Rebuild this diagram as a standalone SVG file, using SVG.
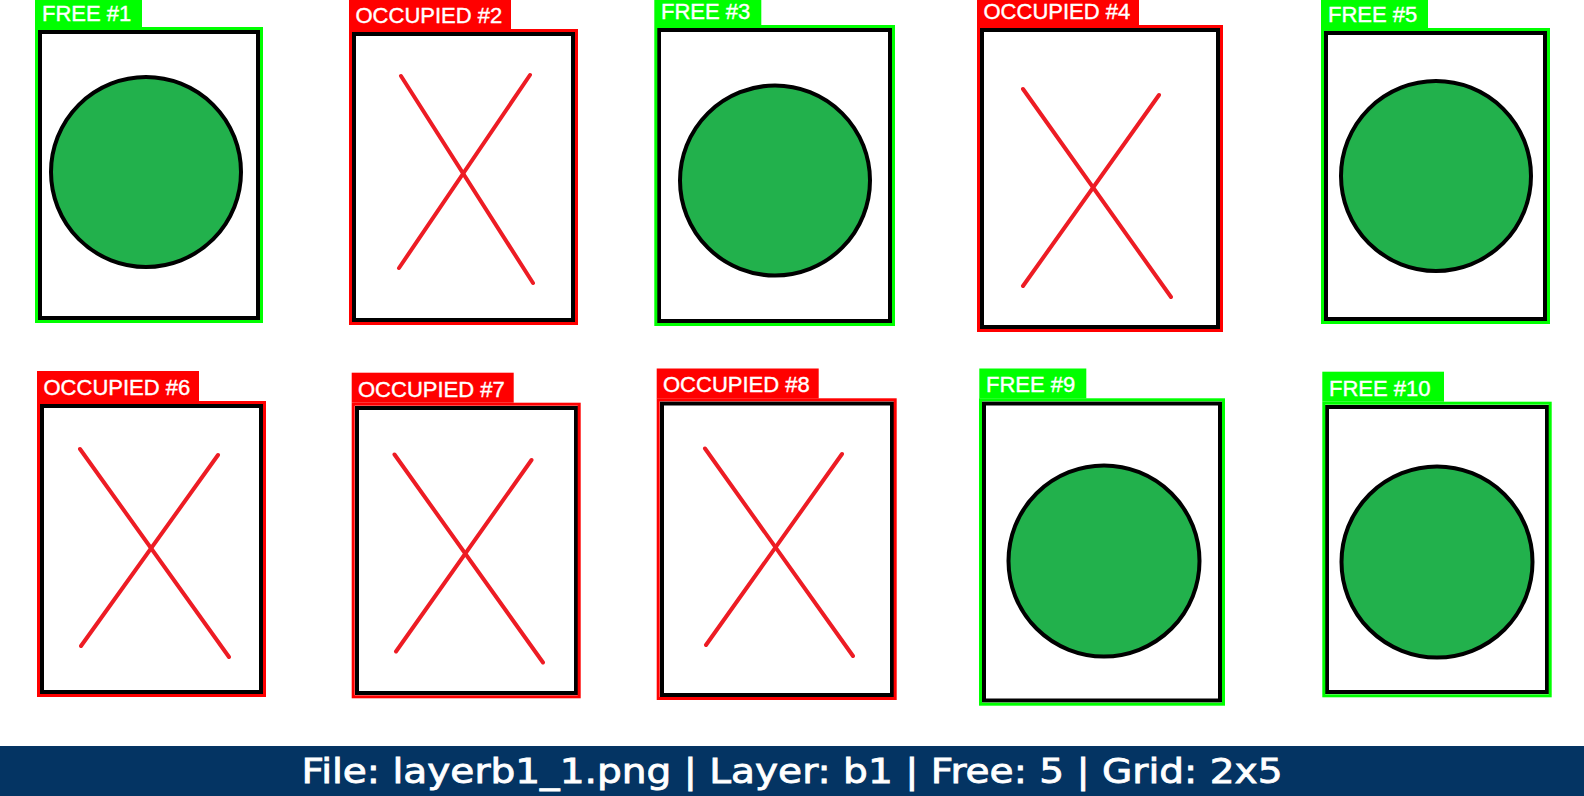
<svg xmlns="http://www.w3.org/2000/svg" width="1584" height="796" viewBox="0 0 1584 796">
<style>
.free{fill:none;stroke:#00FF00;stroke-width:3}
.occ{fill:none;stroke:#FF0000;stroke-width:3}
.inner{fill:#FFFFFF;stroke:#000000;stroke-width:4}
.bgf{fill:#00FF00}
.bgo{fill:#FF0000}
.lbl{font-family:"Liberation Sans",Arial,sans-serif;font-size:22px;fill:#FFFFFF;stroke:#FFFFFF;stroke-width:0.4}
.dot{fill:#22B14C;stroke:#000000;stroke-width:4}
.x{stroke:#ED1C24;stroke-width:4;stroke-linecap:round}
.foot{font-family:"DejaVu Sans","Liberation Sans",sans-serif;font-size:33px;fill:#FFFFFF;stroke:#FFFFFF;stroke-width:0.8}
</style>
<rect width="1584" height="796" fill="#FFFFFF"/>

<g id="slot1">
<rect class="inner" x="40" y="32" width="218" height="286"/>
<rect class="free" x="36.5" y="28.5" width="225" height="293"/>
<rect class="bgf" x="35" y="-3" width="107" height="30"/>
<text class="lbl" x="42" y="21">FREE #1</text>
<circle class="dot" cx="146" cy="172" r="95"/>
</g>

<g id="slot2">
<rect class="inner" x="354" y="34" width="219" height="286"/>
<rect class="occ" x="350.5" y="30.5" width="226" height="293"/>
<rect class="bgo" x="349" y="-1" width="162" height="30"/>
<text class="lbl" x="355.5" y="23">OCCUPIED #2</text>
<line class="x" x1="401" y1="76" x2="533" y2="283"/>
<line class="x" x1="530" y1="75" x2="399" y2="268"/>
</g>

<g id="slot3">
<rect class="inner" x="659" y="30" width="231" height="291"/>
<rect class="free" x="655.8" y="26.5" width="237.7" height="298"/>
<rect class="bgf" x="654.3" y="-5" width="107" height="30"/>
<text class="lbl" x="661" y="19">FREE #3</text>
<circle class="dot" cx="775" cy="180.5" r="95"/>
</g>

<g id="slot4">
<rect class="inner" x="982" y="30" width="236" height="297"/>
<rect class="occ" x="978.5" y="26.5" width="243" height="304"/>
<rect class="bgo" x="977" y="-5" width="162" height="30"/>
<text class="lbl" x="983.5" y="19">OCCUPIED #4</text>
<line class="x" x1="1023" y1="89" x2="1171" y2="297"/>
<line class="x" x1="1159" y1="95" x2="1023" y2="286"/>
</g>

<g id="slot5">
<rect class="inner" x="1326" y="33" width="219" height="286"/>
<rect class="free" x="1322.5" y="29.5" width="226" height="293"/>
<rect class="bgf" x="1321" y="-2" width="107" height="30"/>
<text class="lbl" x="1328" y="22">FREE #5</text>
<circle class="dot" cx="1436" cy="176" r="95"/>
</g>

<g id="slot6">
<rect class="inner" x="42" y="406" width="219" height="286"/>
<rect class="occ" x="38.5" y="402.5" width="226" height="293"/>
<rect class="bgo" x="37" y="371" width="162" height="30"/>
<text class="lbl" x="43.5" y="394.5">OCCUPIED #6</text>
<line class="x" x1="80" y1="449" x2="229" y2="657"/>
<line class="x" x1="218" y1="455" x2="81" y2="646"/>
</g>

<g id="slot7">
<rect class="inner" x="357" y="408" width="219" height="285"/>
<rect class="occ" x="353.2" y="404.2" width="226" height="292.6"/>
<rect class="bgo" x="351.7" y="372.7" width="162" height="30"/>
<text class="lbl" x="358" y="396.5">OCCUPIED #7</text>
<line class="x" x1="394.5" y1="454.5" x2="543" y2="662.5"/>
<line class="x" x1="531.5" y1="460" x2="396" y2="651.5"/>
</g>

<g id="slot8">
<rect class="inner" x="662" y="403.5" width="230" height="291.5"/>
<rect class="occ" x="658.2" y="399.8" width="237" height="298.7"/>
<rect class="bgo" x="656.7" y="368.5" width="162" height="30"/>
<text class="lbl" x="663" y="392.3">OCCUPIED #8</text>
<line class="x" x1="705" y1="448.5" x2="853" y2="656"/>
<line class="x" x1="842" y1="454" x2="706" y2="645"/>
</g>

<g id="slot9">
<rect class="inner" x="984" y="403.5" width="236" height="297"/>
<rect class="free" x="980.5" y="399.8" width="243" height="304.4"/>
<rect class="bgf" x="979.3" y="368.5" width="107" height="30"/>
<text class="lbl" x="986" y="392.3">FREE #9</text>
<circle class="dot" cx="1104" cy="561" r="95.5"/>
</g>

<g id="slot10">
<rect class="inner" x="1327" y="407" width="220" height="285"/>
<rect class="free" x="1323.8" y="403.2" width="226.4" height="292.6"/>
<rect class="bgf" x="1322.3" y="371.7" width="121.7" height="30"/>
<text class="lbl" x="1329" y="395.5">FREE #10</text>
<circle class="dot" cx="1437" cy="562" r="95.5"/>
</g>

<g id="footer">
<rect x="0" y="746" width="1584" height="50" fill="#043463"/>
<text class="foot" x="301.5" y="782.7" textLength="981" lengthAdjust="spacingAndGlyphs">File: layerb1_1.png | Layer: b1 | Free: 5 | Grid: 2x5</text>
</g>
</svg>
